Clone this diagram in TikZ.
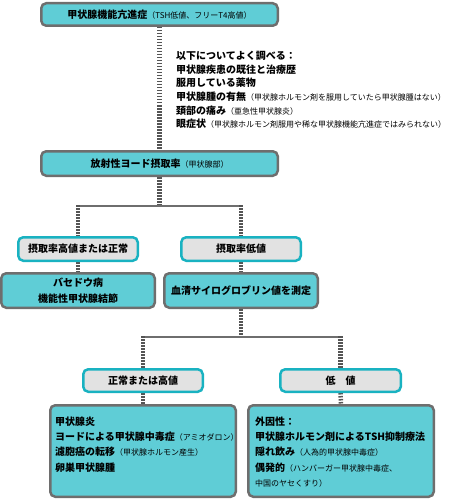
\documentclass[tikz,border=0pt]{standalone}
\usepackage{fontspec}
\setmainfont{Noto Sans CJK JP}
\usetikzlibrary{backgrounds}
\definecolor{tealfill}{HTML}{5FCDD6}
\definecolor{bordgray}{HTML}{6E6E6E}
\definecolor{tealbord}{HTML}{19B2C1}
\definecolor{lightgray}{HTML}{E2E2E2}
\definecolor{laddercol}{HTML}{555555}
\newcommand\smtxt[1]{{\fontsize{8}{9}\selectfont\mdseries #1}}
\tikzset{
  mainbox/.style={draw=bordgray, fill=tealfill, line width=2.5pt, rounded corners=5pt, inner sep=0pt, align=center, font=\fontsize{10}{16}\selectfont\bfseries},
  subbox/.style={draw=tealbord, fill=lightgray, line width=2.5pt, rounded corners=5pt, inner sep=0pt, align=center, font=\fontsize{10}{16}\selectfont\bfseries},
  ladder/.style={draw=laddercol, line width=4.5pt, dash pattern=on 1.5pt off 1.5pt},
  hline/.style={draw=bordgray, line width=1.5pt},
  txtline/.style={inner sep=0pt, anchor=base west, font=\fontsize{10}{12}\selectfont\bfseries},
}
\begin{document}
\begin{tikzpicture}[x=1pt,y=-1pt]
\useasboundingbox (0,0) rectangle (452,500);
\node[mainbox, minimum width=236.5pt, minimum height=22.5pt] (top) at (159.5,14.5) {甲状腺機能亢進症\smtxt{（TSH低値、フリーT4高値）}};
\node[txtline] (n1) at (176,59.8) {以下についてよく調べる：};
\node[txtline] (n2) at (176,73.6) {甲状腺疾患の既往と治療歴};
\node[txtline] (n3) at (176,87) {服用している薬物};
\node[txtline] (n4) at (176,100.6) {甲状腺腫の有無\smtxt{（甲状腺ホルモン剤を服用していたら甲状腺腫はない）}};
\node[txtline] (n5) at (176,114) {頚部の痛み\smtxt{（亜急性甲状腺炎）}};
\node[txtline] (n6) at (176,127.4) {眼症状\smtxt{（甲状腺ホルモン剤服用や稀な甲状腺機能亢進症ではみられない）}};
\node[mainbox, minimum width=236.5pt, minimum height=24.5pt] (rai) at (159.5,163.5) {放射性ヨード摂取率\smtxt{（甲状腺部）}};
\node[subbox, minimum width=119.5pt, minimum height=23.5pt] (hi) at (78,249) {摂取率高値または正常};
\node[subbox, minimum width=119.5pt, minimum height=23.5pt] (lo) at (241,249) {摂取率低値};
\node[mainbox, minimum width=153.5pt, minimum height=34.5pt] (bas) at (78,290.5) {バセドウ病\\機能性甲状腺結節};
\node[mainbox, minimum width=153.5pt, minimum height=34.5pt] (tg) at (241,290.5) {血清サイログロブリン値を測定};
\node[subbox, minimum width=119.5pt, minimum height=22.5pt] (nh) at (143,380.5) {正常または高値};
\node[subbox, minimum width=120.5pt, minimum height=22.5pt] (lw) at (340.5,380.5) {低　値};
\node[mainbox, minimum width=185.5pt, minimum height=91.5pt] (bl) at (143,451) {};
\node[mainbox, minimum width=185.5pt, minimum height=91.5pt] (br) at (341,451) {};
\node[txtline] (l1) at (55,425) {甲状腺炎};
\node[txtline] (l2) at (55,440.5) {ヨードによる甲状腺中毒症\smtxt{（アミオダロン）}};
\node[txtline] (l3) at (55,455.8) {濾胞癌の転移\smtxt{（甲状腺ホルモン産生）}};
\node[txtline] (l4) at (55,471) {卵巣甲状腺腫};
\node[txtline] (r1) at (255,425) {外因性：};
\node[txtline] (r2) at (255,440.5) {甲状腺ホルモン剤によるTSH抑制療法};
\node[txtline] (r3) at (255,455.8) {隠れ飲み\smtxt{（人為的甲状腺中毒症）}};
\node[txtline] (r4) at (255,471) {偶発的\smtxt{（ハンバーガー甲状腺中毒症、}};
\node[txtline] (r5) at (255,486) {\smtxt{中国のヤセくすり）}};
\coordinate (j1) at (159.5,206);
\coordinate (j2) at (241,337);
\begin{scope}[on background layer]
\draw[ladder] (top.south) -- (rai.north);
\draw[ladder] (rai.south) -- (j1);
\draw[hline] (hi.north |- j1) -- (lo.north |- j1);
\draw[ladder] ([yshift=0.75pt]hi.north |- j1) -- (hi.north);
\draw[ladder] ([yshift=0.75pt]lo.north |- j1) -- (lo.north);
\draw[ladder] (hi.south) -- (bas.north);
\draw[ladder] (lo.south) -- (tg.north);
\draw[ladder] (tg.south) -- (j2);
\draw[hline] (nh.north |- j2) -- (lw.north |- j2);
\draw[ladder] ([yshift=0.75pt]nh.north |- j2) -- (nh.north);
\draw[ladder] ([yshift=0.75pt]lw.north |- j2) -- (lw.north);
\draw[ladder] (nh.south) -- (bl.north);
\draw[ladder] (lw.south) -- (br.north);
\end{scope}
\end{tikzpicture}
\end{document}
